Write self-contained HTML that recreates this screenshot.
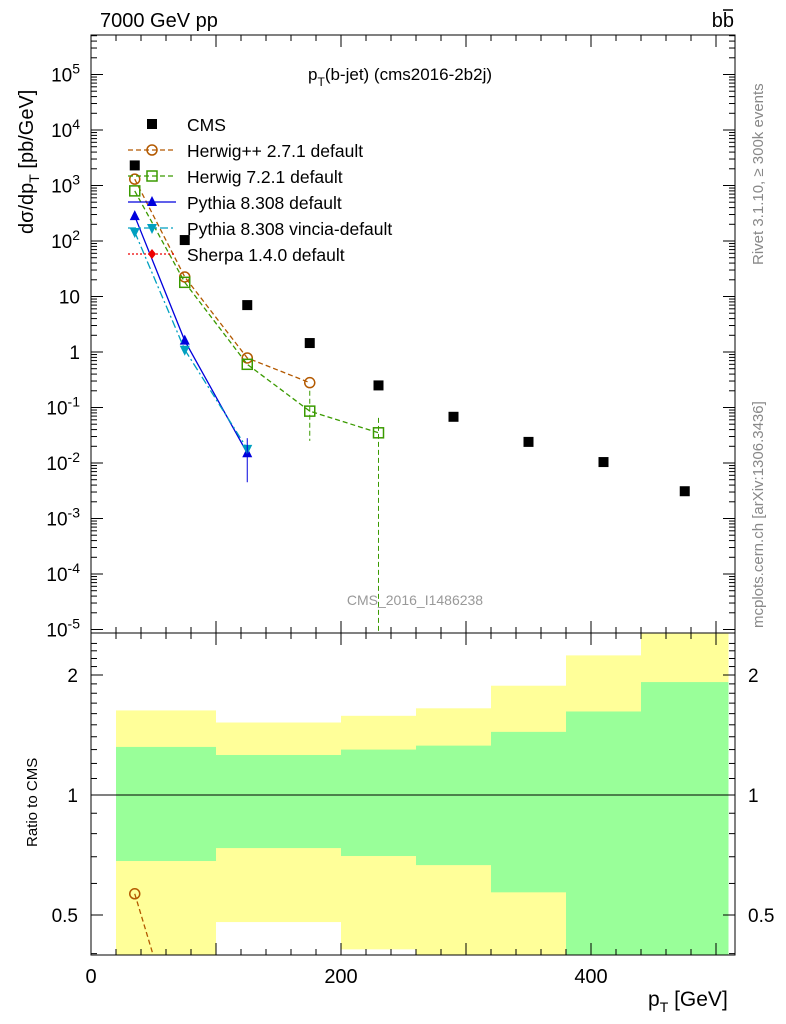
<!DOCTYPE html>
<html><head><meta charset="utf-8"><style>
html,body{margin:0;background:#fff;overflow:hidden;width:786px;height:1024px;}
svg{font-family:"Liberation Sans",sans-serif;display:block;}
</style></head><body>
<svg id="c" width="786" height="1024" xmlns="http://www.w3.org/2000/svg"></svg>
<script>
const edges=[20,50,100,150,200,260,320,380,440,510];
const centers=[35,75,125,175,230,290,350,410,475];
const cms=[2300,104,7,1.45,0.25,0.068,0.024,0.0104,0.0031];
const hwpp=[1300,22.5,0.78,0.28];
const hw7=[800,18,0.6,0.086,0.035];
const py=[280,1.6,0.015];
const vin=[145,1.1,0.018];
const yelTop=[1.63,1.63,1.52,1.52,1.58,1.65,1.88,2.24,2.54];
const grnTop=[1.32,1.32,1.26,1.26,1.30,1.33,1.44,1.62,1.92];
const grnBot=[0.683,0.683,0.736,0.736,0.703,0.667,0.57,0.398,0.398];
const yelBot=[0.398,0.398,0.48,0.48,0.41,0.398,0.398,0.398,0.398];
const xTicks=[0,200,400];
const yTicks=[1e5,1e4,1e3,100,10,1,0.1,0.01,1e-3,1e-4,1e-5];
const yLabels=["10^5","10^4","10^3","10^2","10","1","10^-1","10^-2","10^-3","10^-4","10^-5"];
const rTicks=[0.5,1,2];

const S=document.getElementById('c'),NS="http://www.w3.org/2000/svg";
const L=91,R=735,T=35,M=633,B=955;
const X=v=>L+v*1.25;
const Y=v=>352-55.5*Math.log10(v);
const RY=v=>795-120*Math.log2(v);
const RYc=v=>Math.min(B,Math.max(M,RY(v)));
function el(t,a,p){const e=document.createElementNS(NS,t);for(const k in a)e.setAttribute(k,a[k]);(p||S).appendChild(e);return e;}
function txt(x,y,s,a,p){const e=el('text',Object.assign({x:x,y:y},a||{}),p);e.innerHTML=s;return e;}
const defs=el('defs',{});
const cp1=el('clipPath',{id:'cp1'},defs);el('rect',{x:L,y:T,width:R-L,height:M-T},cp1);
const cp2=el('clipPath',{id:'cp2'},defs);el('rect',{x:L,y:M,width:R-L,height:B-M},cp2);

const gb=el('g',{'clip-path':'url(#cp2)'});

for(let i=0;i<centers.length;i++){
 const x0=X(edges[i]),w=X(edges[i+1])-x0;
 const r1=el('rect',{x:x0,y:RYc(yelTop[i]),width:w,height:RYc(yelBot[i])-RYc(yelTop[i]),fill:'#ffff99'},gb);
 
 const r2=el('rect',{x:x0,y:RYc(grnTop[i]),width:w,height:RYc(grnBot[i])-RYc(grnTop[i]),fill:'#99ff99'},gb);
 
}
el('line',{x1:L,x2:R,y1:RY(1),y2:RY(1),stroke:'#000'});

el('rect',{x:L,y:T,width:R-L,height:M-T,fill:'none',stroke:'#000'});
el('rect',{x:L,y:M,width:R-L,height:B-M,fill:'none',stroke:'#000'});

for(let v=0;v<=510;v+=20){const big=v%100==0,h=big?12:6;
 for(const [yb,yt] of [[M,T],[B,M]]){el('line',{x1:X(v),x2:X(v),y1:yb,y2:yb-h,stroke:'#000'});el('line',{x1:X(v),x2:X(v),y1:yt,y2:yt+h,stroke:'#000'});}}
xTicks.forEach(v=>{const t=txt(X(v),983,v,{'font-size':20,'text-anchor':'middle'});});
for(let e=-5;e<=5;e++){for(let m=1;m<10;m++){const v=m*Math.pow(10,e),y=Y(v);if(y<T||y>M)continue;const h=m==1?12:6;
 el('line',{x1:L,x2:L+h,y1:y,y2:y,stroke:'#000'});el('line',{x1:R,x2:R-h,y1:y,y2:y,stroke:'#000'});}}
yTicks.forEach((v,i)=>{const s=yLabels[i];let h=s.includes('^')?'10<tspan dy="-8" font-size="14">'+s.split('^')[1]+'</tspan>':s;
 const t=txt(80,Y(v)+7,h,{'font-size':19,'text-anchor':'end'});});
for(let v=0.4;v<=2.5;v+=0.1){const y=RY(v);if(y<M||y>B)continue;const big=[0.5,1,2].some(a=>Math.abs(a-v)<1e-6);const h=big?12:6;
 el('line',{x1:L,x2:L+h,y1:y,y2:y,stroke:'#000'});el('line',{x1:R,x2:R-h,y1:y,y2:y,stroke:'#000'});}
rTicks.forEach(v=>{const t=txt(78,RY(v)+7,v,{'font-size':19,'text-anchor':'end'});
 const t2=txt(748,RY(v)+7,v,{'font-size':19});});

const gm=el('g',{'clip-path':'url(#cp1)'});
const gr=el('g',{'clip-path':'url(#cp2)'});
function marker(g,k,x,y,c){
 if(k=='sq')return el('rect',{x:x-5,y:y-5,width:10,height:10,fill:c},g);
 if(k=='osq')return el('rect',{x:x-5,y:y-5,width:10,height:10,fill:'none',stroke:c,'stroke-width':1.5},g);
 if(k=='oc')return el('circle',{cx:x,cy:y,r:5,fill:'none',stroke:c,'stroke-width':1.5},g);
 if(k=='tu')return el('polygon',{points:`${x},${y-6} ${x-5},${y+4} ${x+5},${y+4}`,fill:c},g);
 if(k=='td')return el('polygon',{points:`${x},${y+6} ${x-5},${y-4} ${x+5},${y-4}`,fill:c},g);
 if(k=='di')return el('polygon',{points:`${x},${y-5} ${x-4},${y} ${x},${y+5} ${x+4},${y}`,fill:c},g);
}
const series=[
 {d:hwpp,c:'#b35900',m:'oc',dash:'5,3',n:'herwigpp'},
 {d:hw7,c:'#3a9a00',m:'osq',dash:'5,3',n:'herwig7'},
 {d:py,c:'#0000dd',m:'tu',dash:'',n:'pythia'},
 {d:vin,c:'#00a0c0',m:'td',dash:'8,3,2,3',n:'vincia'}];
series.forEach(s=>{
 const pts=s.d.map((v,i)=>X(centers[i])+','+Y(v)).join(' ');
 const pl=el('polyline',{points:pts,fill:'none',stroke:s.c,'stroke-width':1.3,'stroke-dasharray':s.dash},gm);
 
 s.d.forEach((v,i)=>{const m=marker(gm,s.m,X(centers[i]),Y(v),s.c);});
 // ratio: draw only the segment(s) inside/crossing the ratio window, clipped to edge
 const rv=s.d.map((v,i)=>[X(centers[i]),RY(v/cms[i])]);
 const pts2=[];
 for(let i=0;i<rv.length;i++){
  const [x,y]=rv[i];
  if(y>=M&&y<=B){pts2.push([x,y]);
   if(i+1<rv.length){const [x2,y2]=rv[i+1];if(y2>B){const f=(B-y)/(y2-y);pts2.push([x+f*(x2-x),B]);}}}
 }
 if(pts2.length){
  const rl=el('polyline',{points:pts2.map(p=>p.join(',')).join(' '),fill:'none',stroke:s.c,'stroke-width':1.3,'stroke-dasharray':s.dash},gr);
  }
 rv.forEach(([x,y])=>{if(y<M||y>B)return;const m=marker(gr,s.m,x,y,s.c);});
});
el('line',{x1:X(230),x2:X(230),y1:Y(0.065),y2:M,stroke:'#3a9a00','stroke-dasharray':'5,3'},gm);
el('line',{x1:X(175),x2:X(175),y1:Y(0.2),y2:Y(0.025),stroke:'#3a9a00','stroke-dasharray':'5,3'},gm);
el('line',{x1:X(125),x2:X(125),y1:Y(0.028),y2:Y(0.0045),stroke:'#0000dd'},gm);
cms.forEach((v,i)=>{const m=marker(gm,'sq',X(centers[i]),Y(v),'#000');});

const leg=[['CMS','#000','sq',''],['Herwig++ 2.7.1 default','#b35900','oc','5,3'],['Herwig 7.2.1 default','#3a9a00','osq','5,3'],
 ['Pythia 8.308 default','#0000dd','tu',''],['Pythia 8.308 vincia-default','#00a0c0','td','8,3,2,3'],['Sherpa 1.4.0 default','#ee0000','di','2,2']];
leg.forEach((l,i)=>{const y=124+26*i;const g=el('g',{});
 if(i>0)el('line',{x1:128,x2:176,y1:y,y2:y,stroke:l[1],'stroke-width':1.3,'stroke-dasharray':l[3]},g);
 marker(g,l[2],152,y,l[1]);txt(187,y+7,l[0],{'font-size':17.5},g);});

let t;
t=txt(100,27,'7000 GeV pp',{'font-size':20});
t=txt(734,27,'bb',{'font-size':20,'text-anchor':'end'});
el('line',{x1:723,x2:733,y1:10,y2:10,stroke:'#000','stroke-width':1.5});
t=txt(308,80,'p<tspan dy="6" font-size="12">T</tspan><tspan dy="-6">(b-jet) (cms2016-2b2j)</tspan>',{'font-size':17});
t=txt(415,605,'CMS_2016_I1486238',{'font-size':14,fill:'#999','text-anchor':'middle'});
t=txt(0,0,'dσ/dp<tspan dy="6" font-size="14">T</tspan><tspan dy="-6"> [pb/GeV]</tspan>',{'font-size':20,transform:'translate(33,234) rotate(-90)'});
t=txt(0,0,'Ratio to CMS',{'font-size':15,transform:'translate(37,847) rotate(-90)'});
t=txt(648,1006,'p<tspan dy="6" font-size="14">T</tspan><tspan dy="-6"> [GeV]</tspan>',{'font-size':21});
t=txt(0,0,'Rivet 3.1.10, ≥ 300k events',{'font-size':15,fill:'#888',transform:'translate(763,265) rotate(-90)'});
t=txt(0,0,'mcplots.cern.ch [arXiv:1306.3436]',{'font-size':15,fill:'#888',transform:'translate(763,628) rotate(-90)'});
</script>
</body></html>
